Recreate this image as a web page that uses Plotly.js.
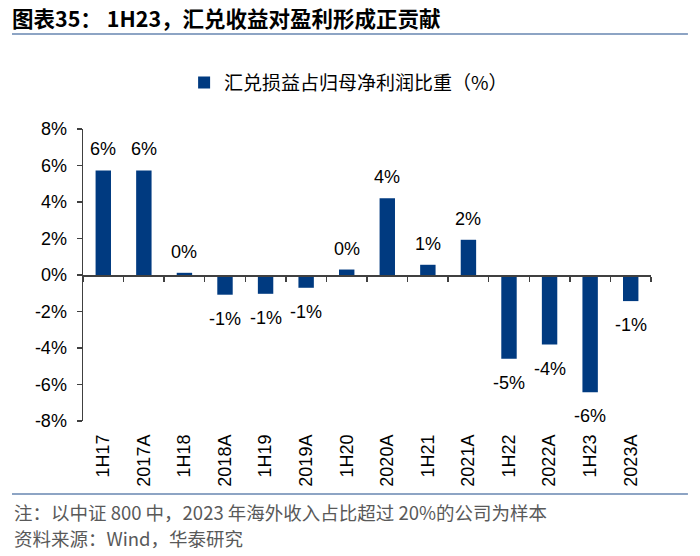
<!DOCTYPE html>
<html>
<head>
<meta charset="utf-8">
<script src="https://cdn.plot.ly/plotly-3.0.1.min.js"></script>
<style>html,body{margin:0;padding:0;background:#fff;}#chart{width:700px;height:556px;}</style>
</head>
<body>
<div id="chart"></div>
<script>
const categories = ["1H17","2017A","1H18","2018A","1H19","2019A","1H20","2020A","1H21","2021A","1H22","2022A","1H23","2023A"];
const values = [5.73, 5.73, 0.12, -1.08, -1.03, -0.70, 0.30, 4.21, 0.56, 1.93, -4.59, -3.81, -6.42, -1.43];
const yTicks = [-8, -6, -4, -2, 0, 2, 4, 6, 8];
const seriesName = "汇兑损益占归母净利润比重（%）";
const titleText = "图表35： 1H23，汇兑收益对盈利形成正贡献";
const note1 = "注：以中证 800 中，2023 年海外收入占比超过 20%的公司为样本";
const note2 = "资料来源：Wind，华泰研究";

const FONT = "Liberation Sans, Arial, Noto Sans CJK SC, sans-serif";
const CJK = "Noto Sans CJK SC, Liberation Sans, sans-serif";
const barColor = "#003A80";
const axisColor = "#404040";
const ruleColor = "#8DA4C4";

const traces = [
  {
    type: "bar", x: categories, y: values, name: seriesName,
    marker: {color: barColor}, hoverinfo: "x+y"
  },
  {
    type: "scatter", mode: "markers", x: categories, y: categories.map(() => 0),
    xaxis: "x2", marker: {opacity: 0}, showlegend: false, hoverinfo: "skip"
  }
];

const annotations = values.map((v, i) => ({
  x: categories[i], y: v, xref: "x", yref: "y",
  text: Math.round(v) + "%", showarrow: false,
  yshift: v >= 0 ? 21 : -24,
  font: {family: FONT, size: 18, color: "#000"}
}));
annotations.push(
  {xref: "paper", yref: "paper", x: -0.125, y: -0.31, xanchor: "left", yanchor: "middle",
   text: note1, showarrow: false, font: {family: CJK, size: 18.5, color: "#595959"}},
  {xref: "paper", yref: "paper", x: -0.125, y: -0.40, xanchor: "left", yanchor: "middle",
   text: note2, showarrow: false, font: {family: CJK, size: 18.5, color: "#595959"}}
);

const layout = {
  width: 700, height: 556,
  margin: {l: 83, r: 49, t: 129, b: 135},
  paper_bgcolor: "#fff", plot_bgcolor: "#fff",
  font: {family: FONT, size: 18, color: "#000"},
  title: {
    text: titleText, x: 12 / 700, xanchor: "left", xref: "container",
    y: 1 - 19 / 556, yanchor: "middle", yref: "container",
    font: {family: CJK, size: 21.5, color: "#000", weight: "bold"}
  },
  showlegend: true,
  legend: {
    orientation: "h", x: 0.178, xanchor: "left", y: 1.159, yanchor: "middle",
    font: {family: CJK, size: 19, color: "#000"}, bgcolor: "rgba(0,0,0,0)"
  },
  bargap: 0.62,
  xaxis: {
    type: "category", categoryorder: "array", categoryarray: categories,
    range: [-0.5, categories.length - 0.5],
    showline: false, ticks: "", showgrid: false, zeroline: false,
    tickangle: -90, ticklabelstandoff: 9,
    tickfont: {family: FONT, size: 18, color: "#000"},
    fixedrange: true
  },
  xaxis2: {
    type: "category", categoryorder: "array", categoryarray: categories,
    overlaying: "x", anchor: "free", position: 0.5, side: "bottom",
    range: [-0.5, categories.length - 0.5],
    showline: true, linecolor: axisColor, linewidth: 1.5,
    ticks: "outside", tickson: "boundaries", ticklen: 5, tickwidth: 1.5, tickcolor: axisColor,
    showticklabels: false, showgrid: false, zeroline: false, fixedrange: true
  },
  yaxis: {
    range: [-8, 8], tickvals: yTicks, ticktext: yTicks.map(t => t + "%"),
    showline: true, linecolor: axisColor, linewidth: 1.5,
    ticks: "outside", ticklen: 5, tickwidth: 1.5, tickcolor: axisColor,
    showgrid: false, zeroline: false, ticklabelstandoff: 6,
    tickfont: {family: FONT, size: 18, color: "#000"}, fixedrange: true
  },
  shapes: [
    {type: "line", xref: "paper", yref: "paper", x0: -0.125, x1: 1.065, y0: 1.325, y1: 1.325,
     line: {color: ruleColor, width: 2}},
    {type: "line", xref: "paper", yref: "paper", x0: -0.125, x1: 1.065, y0: -0.25, y1: -0.25,
     line: {color: ruleColor, width: 2}}
  ],
  annotations: annotations
};

Plotly.newPlot("chart", traces, layout, {displayModeBar: false, staticPlot: true});
</script>
</body>
</html>
